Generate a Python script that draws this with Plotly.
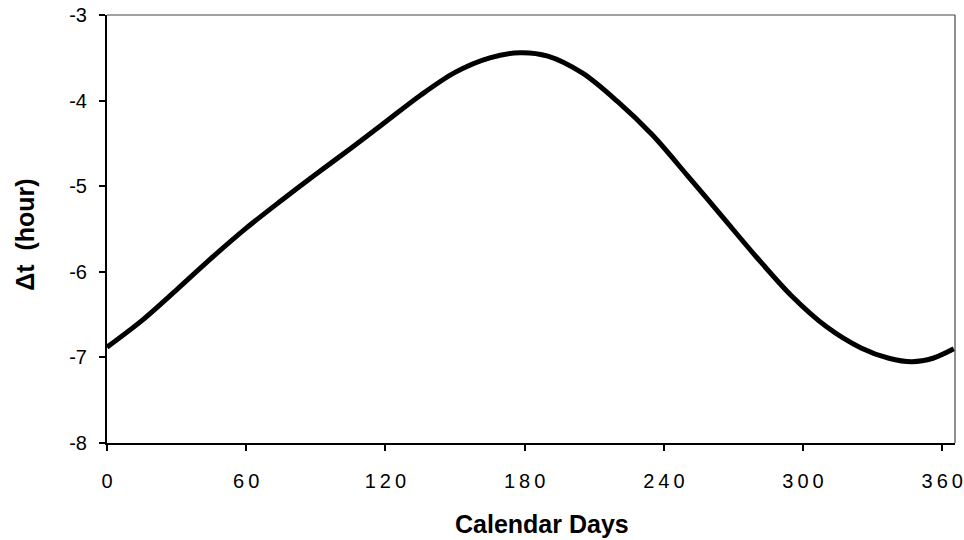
import plotly.graph_objects as go

# Data
days = [0, 15, 30, 45, 60, 75, 90, 105, 120, 135, 150, 165, 178, 190, 205, 220,
        235, 250, 265, 280, 295, 310, 325, 337, 347, 356, 365]
delta_t = [-6.88, -6.57, -6.21, -5.84, -5.49, -5.17, -4.86, -4.56, -4.25, -3.94,
           -3.67, -3.50, -3.44, -3.48, -3.68, -4.01, -4.40, -4.87, -5.35, -5.83,
           -6.28, -6.64, -6.89, -7.01, -7.05, -7.01, -6.90]

x_ticks = [0, 60, 120, 180, 240, 300, 360]
x_tick_labels = ["0", "6\u20090", "1\u20092\u20090", "1\u20098\u20090",
                 "2\u20094\u20090", "3\u20090\u20090", "3\u20096\u20090"]
y_ticks = [-8, -7, -6, -5, -4, -3]
y_tick_labels = ["-8", "-7", "-6", "-5", "-4", "-3"]

x_title = "Calendar Days"
y_title = "\u0394t\u00a0\u00a0(hour)"

FONT = "Liberation Sans, Arial, sans-serif"

fig = go.Figure()
fig.add_trace(go.Scatter(
    x=days, y=delta_t, mode="lines",
    line=dict(color="black", width=5, shape="spline", smoothing=0.9),
    showlegend=False, hoverinfo="skip", cliponaxis=False,
))

fig.update_layout(
    width=964, height=540,
    margin=dict(l=107, r=9, t=15, b=97, autoexpand=False),
    paper_bgcolor="white", plot_bgcolor="white",
    font=dict(family=FONT, color="black"),
    xaxis=dict(
        range=[0, 365.5], tickvals=x_ticks, ticktext=x_tick_labels,
        showgrid=False, zeroline=False, automargin=False,
        showline=True, linecolor="black", linewidth=2,
        ticks="outside", ticklen=6, tickwidth=1.5, tickcolor="black",
        tickfont=dict(size=20, family=FONT), ticklabelstandoff=13,
    ),
    yaxis=dict(
        range=[-8, -3], tickvals=y_ticks, ticktext=y_tick_labels,
        showgrid=False, zeroline=False, automargin=False,
        showline=True, linecolor="black", linewidth=2,
        ticks="outside", ticklen=6, tickwidth=1.5, tickcolor="black",
        tickfont=dict(size=20, family=FONT), ticklabelstandoff=8,
    ),
    shapes=[
        dict(type="line", xref="paper", yref="paper", x0=0, x1=1, y0=1, y1=1,
             line=dict(color="#444444", width=1.2)),
        dict(type="line", xref="paper", yref="paper", x0=1, x1=1, y0=0, y1=1,
             line=dict(color="#444444", width=1.2)),
    ],
    annotations=[
        dict(text="<b>" + x_title + "</b>", xref="paper", yref="paper",
             x=0.513, y=-0.19, xanchor="center", yanchor="middle",
             showarrow=False, font=dict(size=25, family=FONT)),
        dict(text="<b>" + y_title + "</b>", xref="paper", yref="paper",
             x=-0.097, y=0.486, xanchor="center", yanchor="middle",
             textangle=-90, showarrow=False, font=dict(size=25, family=FONT)),
    ],
)

fig.write_html("out.html")
